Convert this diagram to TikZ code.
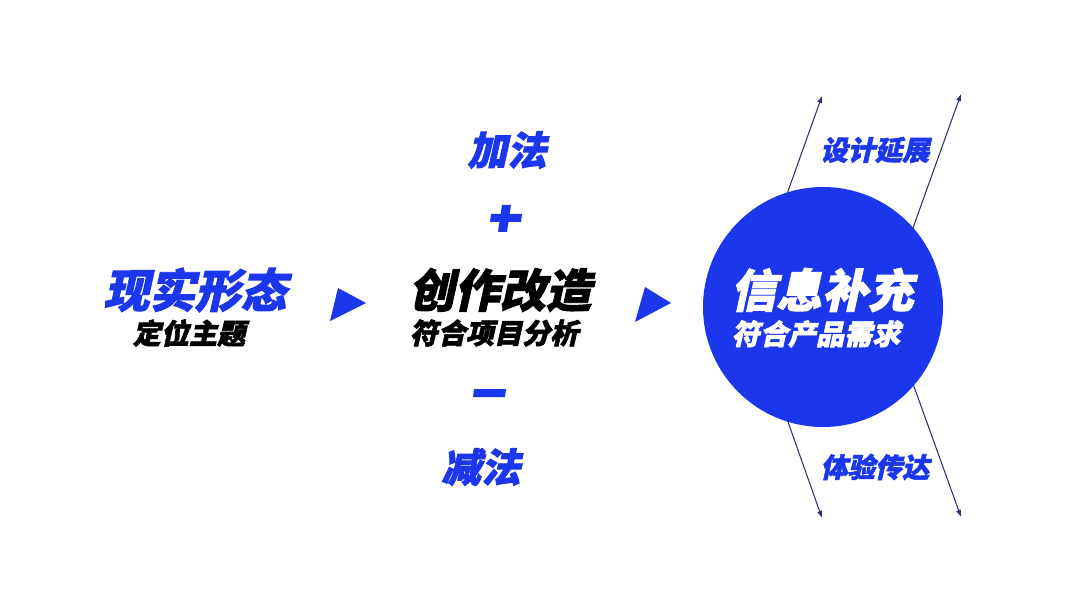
\documentclass[tikz,border=0pt]{standalone}
\usepackage{fontspec}
\newfontfamily\cjk[BoldFeatures={FakeSlant=0.22,FakeBold=2}]{Noto Sans CJK SC}
\usetikzlibrary{arrows.meta}
\definecolor{mainblue}{RGB}{28,55,235}
\definecolor{linenavy}{RGB}{45,50,120}
\begin{document}
\begin{tikzpicture}[x=0.02cm,y=-0.02cm,
  bigtxt/.style={font=\cjk\bfseries\fontsize{26}{30}\selectfont, inner sep=0pt},
  midtxt/.style={font=\cjk\bfseries\fontsize{22.5}{26}\selectfont, inner sep=0pt},
  smalltxt/.style={font=\cjk\bfseries\fontsize{16}{19}\selectfont, inner sep=0pt},
  sidetxt/.style={font=\cjk\bfseries\fontsize{15.5}{18}\selectfont, inner sep=0pt, text=mainblue},
  thinarrow/.style={draw=linenavy, line width=0.6pt, -{Latex[length=4pt,width=3pt]}},
  tri/.style={fill=mainblue, draw=none}
]
\useasboundingbox (0,0) rectangle (1080,608);
\fill[white] (0,0) rectangle (1080,608);

% left group
\node[bigtxt, text=mainblue] (real) at (195,290) {现实形态};
\node[smalltxt, text=black] (realsub) at (189,333) {定位主题};

% triangles
\fill[tri] (338,288) -- (366,303) -- (330,321) -- cycle;
\fill[tri] (645,287) -- (671,303) -- (635,322) -- cycle;

% middle group
\node[midtxt, text=mainblue] (add) at (507,150) {加法};
% plus sign
\fill[mainblue] (491,214) -- (522,214) -- (521,222) -- (490,222) -- cycle;
\fill[mainblue] (502,205) -- (511,205) -- (507,232) -- (498,232) -- cycle;
\node[bigtxt, text=black] (create) at (500,290) {创作改造};
\node[smalltxt, text=black] (createsub) at (494,333) {符合项目分析};
% minus sign
\fill[mainblue] (474,389) -- (506,389) -- (505,397) -- (473,397) -- cycle;
\node[midtxt, text=mainblue] (sub) at (481,467) {减法};

% right group: lines
\coordinate (vL) at (747,306);
\coordinate (vR) at (885,306);
\coordinate (tL) at (822,96);
\coordinate (bL) at (822,518);
\coordinate (tR) at (961,94);
\coordinate (bR) at (961,517);
\draw[thinarrow] (vL) -- (tL);
\draw[thinarrow] (vL) -- (bL);
\draw[thinarrow] (vR) -- (tR);
\draw[thinarrow] (vR) -- (bR);

\node[circle, fill=mainblue, minimum size=240*0.02cm, inner sep=0pt] (info) at (823,307) {};
\node[bigtxt, text=white] (infot) at (822,290) {信息补充};
\node[smalltxt, text=white] (infosub) at (816,334) {符合产品需求};

\node[sidetxt] (ext) at (875,150) {设计延展};
\node[sidetxt] (exp) at (875,467) {体验传达};
\end{tikzpicture}
\end{document}
